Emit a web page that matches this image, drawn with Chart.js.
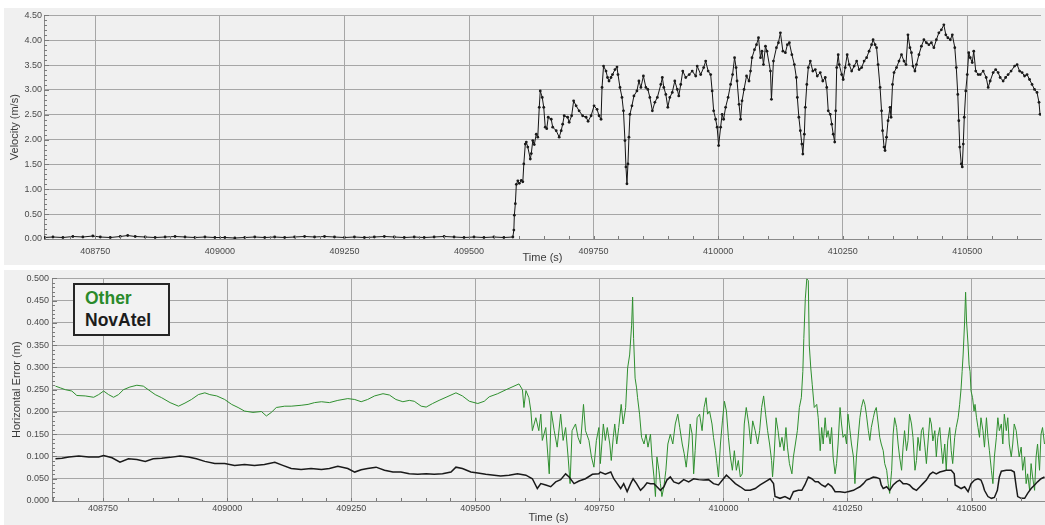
<!DOCTYPE html>
<html>
<head>
<meta charset="utf-8">
<title>Velocity and horizontal error</title>
<script src="https://cdn.jsdelivr.net/npm/chart.js@4.4.1/dist/chart.umd.min.js"></script>
<style>
  html, body { margin: 0; padding: 0; background: #ffffff; width: 1045px; height: 525px; overflow: hidden; }
  .panel { position: absolute; left: 4px; width: 1041px; background: #f0f0f0; }
  #panelVel { top: 8px; height: 257px; }
  #panelErr { top: 270px; height: 255px; }
  canvas { display: block; }
  #legendBox {
    position: absolute; left: 73px; top: 283px; width: 97px; height: 53px;
    box-sizing: border-box; border: 2px solid #262626; background: #f2f2f2;
    font-family: 'Liberation Sans', Arial, sans-serif; font-weight: bold;
    font-size: 17.5px; line-height: 22px; padding: 2px 0 0 10px;
  }
  #legendBox .other { color: #2a8a2a; }
  #legendBox .novatel { color: #1c1c1c; }
</style>
</head>
<body>
<div class="panel" id="panelVel"><canvas id="velChart" width="1041" height="257"></canvas></div>
<div class="panel" id="panelErr"><canvas id="errChart" width="1041" height="255"></canvas></div>
<div id="legendBox"><div class="other">Other</div><div class="novatel">NovAtel</div></div>
<script>
// GPS time range shown on both panels (s)
const timeMin = 408647;
const timeMax = 410648;
const timeTicks = [408750, 409000, 409250, 409500, 409750, 410000, 410250, 410500];
const velocityTicks = [0, 0.5, 1.0, 1.5, 2.0, 2.5, 3.0, 3.5, 4.0, 4.5];
const errorTicks = [0, 0.05, 0.1, 0.15, 0.2, 0.25, 0.3, 0.35, 0.4, 0.45, 0.5];

// Velocity (m/s) against time (s)
const velocityPoints = [
  [408647,0.03],[408665,0.04],[408685,0.03],[408705,0.05],[408725,0.04],[408745,0.06],[408760,0.04],
  [408780,0.03],[408800,0.05],[408815,0.07],[408830,0.05],[408850,0.04],[408870,0.03],[408890,0.04],
  [408910,0.05],[408930,0.04],[408950,0.03],[408970,0.04],[408990,0.03],[409010,0.03],[409030,0.02],
  [409050,0.03],[409070,0.04],[409090,0.03],[409110,0.04],[409130,0.03],[409150,0.04],[409170,0.05],
  [409190,0.04],[409210,0.05],[409230,0.04],[409250,0.03],[409270,0.04],[409290,0.03],[409310,0.04],
  [409330,0.05],[409350,0.04],[409370,0.03],[409390,0.04],[409410,0.03],[409430,0.04],[409450,0.05],
  [409470,0.04],[409490,0.03],[409510,0.04],[409530,0.03],[409550,0.04],[409570,0.03],[409588,0.04],
  [409590,0.18],[409591,0.48],[409593,0.71],[409595,1.10],[409598,1.17],[409601,1.12],[409605,1.18],
  [409608,1.15],[409610,1.51],[409613,1.91],[409615,1.95],[409618,1.85],[409623,1.61],[409625,1.72],
  [409628,1.98],[409631,1.90],[409635,2.11],[409638,2.05],[409641,2.65],[409643,2.98],[409647,2.85],
  [409650,2.65],[409653,2.25],[409656,2.22],[409659,2.45],[409665,2.41],[409668,2.25],[409675,2.18],
  [409681,2.05],[409685,2.18],[409688,2.31],[409691,2.48],[409698,2.45],[409701,2.35],[409706,2.48],
  [409710,2.78],[409715,2.68],[409721,2.58],[409728,2.48],[409735,2.45],[409739,2.37],[409745,2.48],
  [409751,2.68],[409757,2.61],[409761,2.48],[409765,2.41],[409767,3.05],[409770,3.48],[409775,3.38],
  [409778,3.25],[409781,3.18],[409785,3.25],[409788,3.31],[409793,3.41],[409797,3.46],[409799,3.31],
  [409803,3.05],[409807,2.85],[409810,2.58],[409813,1.98],[409815,1.45],[409817,1.11],[409819,1.51],
  [409821,2.05],[409823,2.51],[409827,2.68],[409831,2.88],[409837,2.98],[409841,3.18],[409845,3.05],
  [409850,3.28],[409855,3.05],[409859,3.01],[409863,2.85],[409868,2.58],[409873,2.75],[409878,2.85],
  [409885,3.11],[409888,3.25],[409891,3.05],[409895,2.91],[409899,2.65],[409903,2.85],[409908,2.95],
  [409913,3.18],[409918,3.01],[409921,2.88],[409925,3.11],[409929,3.38],[409935,3.25],[409942,3.31],
  [409948,3.38],[409955,3.28],[409958,3.48],[409965,3.31],[409971,3.45],[409975,3.58],[409980,3.38],
  [409985,3.31],[409988,2.98],[409991,2.58],[409995,2.41],[409998,2.25],[410001,1.88],[410005,2.25],
  [410008,2.51],[410011,2.41],[410015,2.65],[410020,2.85],[410025,3.11],[410029,3.31],[410033,3.65],
  [410036,3.45],[410038,3.18],[410042,2.71],[410045,2.41],[410048,2.78],[410052,3.01],[410057,3.28],
  [410062,3.18],[410065,3.38],[410068,3.65],[410073,3.81],[410077,3.91],[410081,4.05],[410085,3.65],
  [410088,3.78],[410091,3.51],[410095,3.88],[410098,3.78],[410105,3.38],[410107,2.81],[410111,3.58],
  [410117,3.85],[410121,3.95],[410125,4.15],[410130,3.78],[410135,3.75],[410139,3.91],[410143,3.95],
  [410148,3.71],[410153,3.51],[410157,3.25],[410159,2.85],[410162,2.45],[410165,2.18],[410168,1.91],
  [410170,1.71],[410173,2.11],[410175,2.65],[410178,3.11],[410181,3.45],[410185,3.58],[410190,3.38],
  [410195,3.41],[410199,3.28],[410205,3.35],[410210,3.18],[410215,3.25],[410218,3.05],[410221,2.58],
  [410225,2.51],[410228,2.31],[410231,2.11],[410234,1.95],[410236,2.58],[410238,3.45],[410241,3.71],
  [410243,3.51],[410248,3.31],[410251,3.21],[410255,3.45],[410259,3.71],[410263,3.51],[410268,3.38],
  [410273,3.48],[410278,3.58],[410283,3.41],[410288,3.45],[410293,3.58],[410298,3.65],[410303,3.78],
  [410308,3.91],[410311,4.01],[410315,3.91],[410318,3.85],[410321,3.51],[410325,3.05],[410328,2.58],
  [410330,2.18],[410333,1.85],[410335,1.78],[410338,2.05],[410341,2.38],[410345,2.65],[410347,2.45],
  [410350,3.11],[410353,3.35],[410358,3.45],[410363,3.58],[410368,3.71],[410373,3.58],[410377,3.51],
  [410381,4.11],[410385,3.85],[410388,3.75],[410391,3.48],[410395,3.38],[410398,3.51],[410403,3.71],
  [410408,3.88],[410413,4.01],[410418,3.95],[410423,3.91],[410428,3.95],[410433,3.85],[410438,4.01],
  [410443,4.15],[410448,4.21],[410453,4.31],[410457,4.11],[410461,4.05],[410466,4.01],[410470,4.11],
  [410475,3.85],[410478,3.45],[410481,2.91],[410483,2.38],[410485,1.85],[410488,1.51],[410490,1.45],
  [410492,1.91],[410494,2.45],[410497,2.98],[410500,3.31],[410503,3.75],[410506,3.65],[410510,3.55],
  [410513,3.78],[410517,3.38],[410522,3.31],[410526,3.31],[410532,3.38],[410538,3.25],[410542,3.05],
  [410546,3.18],[410552,3.35],[410557,3.41],[410562,3.35],[410566,3.25],[410572,3.18],[410577,3.25],
  [410582,3.31],[410588,3.38],[410595,3.48],[410600,3.51],[410605,3.38],[410610,3.35],[410615,3.28],
  [410620,3.31],[410625,3.21],[410630,3.11],[410635,3.01],[410640,2.95],[410644,2.75],[410646,2.51]
];

// Horizontal error (m) of the other receiver
const otherPoints = [
  [408654,0.258],[408664,0.254],[408674,0.250],[408687,0.247],[408697,0.237],[408714,0.236],[408731,0.233],
  [408741,0.239],[408751,0.247],[408761,0.239],[408771,0.233],[408781,0.239],[408791,0.250],[408804,0.256],
  [408818,0.260],[408831,0.258],[408841,0.250],[408855,0.239],[408868,0.232],[408885,0.221],[408902,0.213],
  [408915,0.220],[408928,0.228],[408942,0.239],[408955,0.243],[408965,0.239],[408979,0.236],[408995,0.228],
  [409009,0.217],[409022,0.210],[409035,0.202],[409052,0.199],[409069,0.201],[409079,0.191],[409089,0.199],
  [409099,0.210],[409116,0.213],[409129,0.213],[409149,0.215],[409163,0.217],[409176,0.221],[409190,0.223],
  [409206,0.221],[409223,0.226],[409243,0.230],[409257,0.228],[409270,0.223],[409283,0.228],[409297,0.236],
  [409314,0.241],[409327,0.238],[409340,0.228],[409354,0.223],[409367,0.226],[409377,0.224],[409391,0.213],
  [409401,0.211],[409414,0.219],[409427,0.226],[409441,0.233],[409461,0.243],[409474,0.236],[409488,0.224],
  [409505,0.219],[409518,0.224],[409528,0.234],[409545,0.241],[409562,0.250],[409578,0.258],[409588,0.263],
  [409595,0.250],[409598,0.210],[409602,0.248],[409608,0.232],[409612,0.202],[409615,0.158],[409622,0.187],
  [409628,0.158],[409632,0.195],[409635,0.136],[409642,0.165],[409649,0.061],[409653,0.202],[409659,0.158],
  [409665,0.121],[409672,0.195],[409677,0.136],[409682,0.165],[409687,0.099],[409691,0.039],[409695,0.158],
  [409702,0.173],[409707,0.143],[409712,0.128],[409718,0.217],[409722,0.158],[409729,0.136],[409734,0.099],
  [409739,0.076],[409744,0.136],[409749,0.165],[409752,0.084],[409758,0.173],[409762,0.136],[409766,0.165],
  [409771,0.128],[409774,0.091],[409778,0.143],[409781,0.173],[409785,0.128],[409789,0.165],[409794,0.217],
  [409798,0.173],[409803,0.210],[409807,0.299],[409811,0.328],[409815,0.395],[409817,0.458],[409819,0.365],
  [409822,0.276],[409825,0.254],[409827,0.232],[409831,0.195],[409835,0.143],[409840,0.128],[409844,0.150],
  [409848,0.121],[409853,0.150],[409856,0.099],[409860,0.054],[409863,0.010],[409866,0.099],[409870,0.069],
  [409873,0.039],[409876,0.010],[409880,0.032],[409884,0.069],[409888,0.128],[409893,0.150],[409898,0.128],
  [409903,0.173],[409908,0.195],[409912,0.165],[409917,0.128],[409921,0.106],[409925,0.076],[409930,0.128],
  [409933,0.173],[409937,0.150],[409940,0.061],[409943,0.113],[409947,0.187],[409952,0.195],[409957,0.158],
  [409961,0.210],[409965,0.232],[409968,0.195],[409972,0.202],[409977,0.173],[409980,0.143],[409984,0.113],
  [409987,0.084],[409990,0.054],[409994,0.128],[409998,0.180],[410002,0.224],[410006,0.202],[410010,0.143],
  [410014,0.099],[410018,0.069],[410022,0.113],[410026,0.069],[410030,0.091],[410034,0.054],[410038,0.061],
  [410042,0.173],[410046,0.210],[410051,0.173],[410055,0.128],[410059,0.180],[410064,0.158],[410069,0.128],
  [410073,0.158],[410077,0.210],[410081,0.236],[410085,0.195],[410089,0.158],[410093,0.128],[410097,0.091],
  [410099,0.054],[410102,0.099],[410106,0.187],[410110,0.158],[410114,0.121],[410118,0.143],[410122,0.113],
  [410126,0.165],[410129,0.121],[410133,0.084],[410138,0.061],[410141,0.099],[410145,0.128],[410149,0.158],
  [410153,0.210],[410157,0.232],[410160,0.291],[410162,0.365],[410165,0.454],[410168,0.499],[410171,0.495],
  [410173,0.350],[410176,0.299],[410179,0.261],[410183,0.210],[410188,0.217],[410191,0.187],[410195,0.113],
  [410198,0.165],[410201,0.128],[410205,0.187],[410208,0.143],[410211,0.158],[410215,0.128],[410218,0.165],
  [410221,0.099],[410225,0.061],[410228,0.084],[410231,0.128],[410235,0.210],[410238,0.173],[410241,0.143],
  [410245,0.150],[410248,0.128],[410251,0.195],[410255,0.158],[410258,0.128],[410262,0.099],[410265,0.039],
  [410268,0.099],[410272,0.150],[410275,0.187],[410278,0.210],[410282,0.228],[410285,0.217],[410288,0.195],
  [410292,0.158],[410295,0.136],[410298,0.165],[410302,0.187],[410305,0.202],[410308,0.210],[410312,0.173],
  [410315,0.143],[410318,0.128],[410322,0.113],[410325,0.084],[410329,0.069],[410332,0.039],[410335,0.017],
  [410339,0.069],[410342,0.150],[410345,0.187],[410349,0.165],[410352,0.128],[410355,0.099],[410359,0.069],
  [410362,0.121],[410365,0.158],[410369,0.113],[410372,0.136],[410375,0.195],[410379,0.173],[410382,0.143],
  [410386,0.069],[410389,0.091],[410392,0.143],[410396,0.113],[410399,0.158],[410402,0.165],[410406,0.121],
  [410409,0.084],[410412,0.128],[410416,0.187],[410419,0.173],[410422,0.135],[410426,0.158],[410429,0.099],
  [410432,0.143],[410436,0.165],[410439,0.121],[410442,0.084],[410446,0.128],[410449,0.069],[410452,0.135],
  [410456,0.165],[410459,0.113],[410462,0.084],[410466,0.143],[410469,0.165],[410473,0.187],[410476,0.217],
  [410479,0.254],[410481,0.291],[410483,0.328],[410486,0.402],[410488,0.469],[410490,0.402],[410493,0.350],
  [410495,0.306],[410497,0.291],[410499,0.247],[410502,0.232],[410505,0.202],[410507,0.217],[410510,0.187],
  [410513,0.165],[410516,0.143],[410519,0.187],[410523,0.158],[410526,0.121],[410530,0.187],[410533,0.143],
  [410536,0.113],[410540,0.069],[410543,0.039],[410546,0.099],[410550,0.143],[410553,0.187],[410556,0.158],
  [410560,0.173],[410563,0.128],[410566,0.195],[410570,0.158],[410573,0.187],[410576,0.128],[410580,0.099],
  [410583,0.128],[410586,0.173],[410590,0.158],[410593,0.128],[410596,0.099],[410600,0.121],[410603,0.069],
  [410607,0.099],[410610,0.039],[410613,0.061],[410617,0.024],[410620,0.084],[410623,0.054],[410627,0.024],
  [410630,0.099],[410633,0.128],[410637,0.069],[410640,0.150],[410643,0.165],[410647,0.128]
];

// Horizontal error (m) of the NovAtel receiver
const novatelPoints = [
  [408654,0.095],[408667,0.096],[408681,0.099],[408701,0.101],[408721,0.099],[408741,0.099],[408751,0.102],
  [408768,0.097],[408784,0.087],[408801,0.095],[408818,0.093],[408835,0.089],[408851,0.095],[408868,0.096],
  [408885,0.098],[408905,0.101],[408922,0.099],[408938,0.095],[408955,0.089],[408975,0.084],[408995,0.084],
  [409015,0.080],[409035,0.082],[409055,0.080],[409075,0.082],[409096,0.087],[409112,0.080],[409129,0.073],
  [409149,0.071],[409169,0.073],[409190,0.071],[409206,0.073],[409223,0.078],[409243,0.073],[409257,0.065],
  [409270,0.070],[409283,0.073],[409300,0.076],[409317,0.069],[409334,0.065],[409350,0.065],[409367,0.061],
  [409384,0.060],[409401,0.061],[409417,0.060],[409434,0.061],[409451,0.065],[409461,0.076],[409474,0.073],
  [409491,0.065],[409505,0.063],[409521,0.060],[409538,0.058],[409551,0.056],[409568,0.058],[409585,0.061],
  [409602,0.058],[409615,0.050],[409625,0.028],[409632,0.039],[409642,0.036],[409652,0.032],[409662,0.043],
  [409672,0.048],[409682,0.061],[409689,0.054],[409699,0.039],[409709,0.045],[409722,0.050],[409736,0.060],
  [409749,0.061],[409752,0.065],[409762,0.060],[409773,0.065],[409779,0.050],[409786,0.039],[409793,0.028],
  [409799,0.039],[409806,0.021],[409813,0.039],[409818,0.050],[409825,0.039],[409833,0.024],[409840,0.032],
  [409846,0.041],[409853,0.039],[409860,0.039],[409866,0.032],[409873,0.024],[409880,0.032],[409886,0.047],
  [409893,0.054],[409900,0.043],[409910,0.039],[409920,0.048],[409930,0.043],[409940,0.050],[409950,0.048],
  [409960,0.047],[409970,0.048],[409980,0.039],[409990,0.036],[410000,0.050],[410006,0.058],[410014,0.050],
  [410024,0.039],[410034,0.032],[410044,0.024],[410054,0.024],[410064,0.028],[410074,0.036],[410084,0.043],
  [410094,0.050],[410101,0.039],[410104,0.010],[410114,0.006],[410124,0.010],[410134,0.004],[410141,0.021],
  [410151,0.024],[410158,0.024],[410164,0.036],[410171,0.054],[410178,0.050],[410185,0.043],[410191,0.043],
  [410198,0.036],[410205,0.032],[410211,0.039],[410218,0.033],[410221,0.028],[410225,0.021],[410235,0.021],
  [410245,0.019],[410251,0.021],[410262,0.024],[410268,0.028],[410275,0.032],[410282,0.039],[410288,0.047],
  [410295,0.050],[410302,0.054],[410308,0.053],[410315,0.050],[410318,0.036],[410322,0.028],[410329,0.032],
  [410335,0.024],[410342,0.036],[410349,0.043],[410355,0.047],[410362,0.039],[410369,0.039],[410375,0.036],
  [410382,0.028],[410389,0.024],[410396,0.032],[410402,0.039],[410409,0.047],[410416,0.060],[410422,0.065],
  [410429,0.061],[410436,0.065],[410442,0.067],[410449,0.069],[410459,0.069],[410465,0.061],[410467,0.036],
  [410473,0.032],[410479,0.028],[410486,0.032],[410493,0.021],[410499,0.039],[410506,0.047],[410513,0.050],
  [410519,0.047],[410523,0.036],[410526,0.024],[410533,0.010],[410540,0.006],[410546,0.008],[410552,0.024],
  [410556,0.054],[410560,0.067],[410570,0.069],[410580,0.069],[410586,0.065],[410590,0.032],[410593,0.010],
  [410600,0.006],[410607,0.006],[410613,0.017],[410620,0.028],[410627,0.036],[410633,0.043],[410640,0.050],
  [410647,0.054]
];

const FONT = "'Liberation Sans', Arial, sans-serif";
const toXY = pts => pts.map(p => ({ x: p[0], y: p[1] }));

// Small tick marks: every 50 s along the time axis, every fifth of a y step on the value axis
function minorTicks(yMinorStep) {
  return {
    id: 'minorTicks',
    afterDatasetsDraw(chart) {
      const { ctx, chartArea, scales } = chart;
      ctx.save();
      ctx.strokeStyle = '#7a7a7a';
      ctx.lineWidth = 1;
      ctx.beginPath();
      const x0 = Math.ceil(timeMin / 50) * 50;
      for (let t = x0; t <= timeMax; t += 50) {
        const px = Math.round(scales.x.getPixelForValue(t)) + 0.5;
        ctx.moveTo(px, chartArea.bottom);
        ctx.lineTo(px, chartArea.bottom - 3);
      }
      const yMax = scales.y.max;
      const n = Math.round(yMax / yMinorStep);
      for (let i = 0; i <= n; i++) {
        const py = Math.round(scales.y.getPixelForValue(i * yMinorStep)) + 0.5;
        const len = (i % 5 === 0) ? 5 : 3;
        ctx.moveTo(chartArea.left, py);
        ctx.lineTo(chartArea.left + len, py);
      }
      ctx.stroke();
      ctx.restore();
    }
  };
}

function makeOptions(cfg) {
  return {
    responsive: false,
    animation: false,
    events: [],
    layout: { padding: { left: 0, right: 0, top: 6, bottom: 0 } },
    plugins: { legend: { display: false }, tooltip: { enabled: false } },
    elements: { line: { tension: 0 } },
    scales: {
      x: {
        type: 'linear',
        min: timeMin,
        max: timeMax,
        afterBuildTicks: s => { s.ticks = timeTicks.map(v => ({ value: v })); },
        afterFit: s => { s.height = cfg.xHeight; },
        grid: { color: '#a6a6a6', lineWidth: 1, drawTicks: false },
        border: { display: true, color: '#8a8a8a' },
        ticks: {
          autoSkip: false, maxRotation: 0, padding: cfg.xTickPad,
          font: { family: FONT, size: 9 }, color: '#4a4a4a',
          callback: v => String(v)
        },
        title: {
          display: true, text: 'Time (s)', padding: { top: 0, bottom: 0 },
          font: { family: FONT, size: 11 }, color: '#3a3a3a'
        }
      },
      y: {
        min: 0,
        max: cfg.yMax,
        afterBuildTicks: s => { s.ticks = cfg.yTicks.map(v => ({ value: v })); },
        afterFit: s => { s.width = cfg.yWidth; },
        grid: { color: '#a6a6a6', lineWidth: 1, drawTicks: false },
        border: { display: true, color: '#8a8a8a' },
        ticks: {
          padding: cfg.yTickPad,
          font: { family: FONT, size: 9 }, color: '#4a4a4a',
          callback: v => Number(v).toFixed(cfg.decimals)
        },
        title: {
          display: true, text: cfg.yTitle, padding: { top: cfg.yTitlePad, bottom: 0 },
          font: { family: FONT, size: 11 }, color: '#3a3a3a'
        }
      }
    }
  };
}

new Chart(document.getElementById('velChart'), {
  type: 'line',
  data: {
    datasets: [{
      label: 'Velocity',
      data: toXY(velocityPoints),
      borderColor: '#141414',
      borderWidth: 1,
      pointRadius: 1.4,
      pointBackgroundColor: '#1a1a1a',
      pointBorderWidth: 0
    }]
  },
  options: makeOptions({
    xHeight: 26, xTickPad: 7, yWidth: 40, yTickPad: 2,
    yMax: 4.5, yTicks: velocityTicks, decimals: 2,
    yTitle: 'Velocity (m/s)', yTitlePad: 4
  }),
  plugins: [minorTicks(0.1)]
});

new Chart(document.getElementById('errChart'), {
  type: 'line',
  data: {
    datasets: [
      {
        label: 'NovAtel',
        data: toXY(novatelPoints),
        borderColor: '#1a1a1a',
        borderWidth: 1.5,
        pointRadius: 0
      },
      {
        label: 'Other',
        data: toXY(otherPoints),
        borderColor: '#2f8f2f',
        borderWidth: 1,
        pointRadius: 0
      }
    ]
  },
  options: makeOptions({
    xHeight: 24, xTickPad: 2, yWidth: 48, yTickPad: 3,
    yMax: 0.5, yTicks: errorTicks, decimals: 3,
    yTitle: 'Horizontal Error (m)', yTitlePad: 6
  }),
  plugins: [minorTicks(0.01)]
});
</script>
</body>
</html>
